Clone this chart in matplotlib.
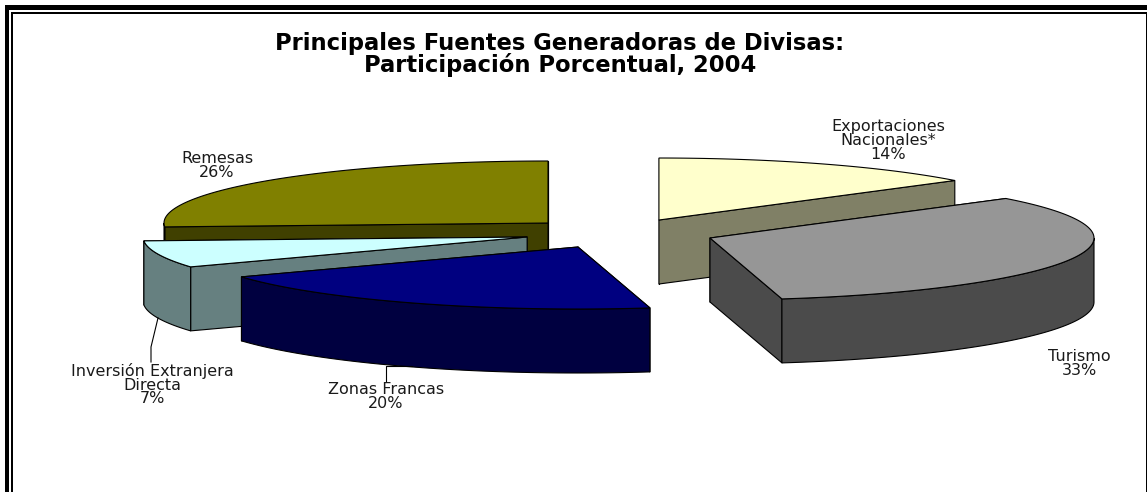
import numpy as np
import matplotlib
matplotlib.use('Agg')
import matplotlib.pyplot as plt
from matplotlib.patches import Polygon, Rectangle

title = "Principales Fuentes Generadoras de Divisas:\nParticipación Porcentual, 2004"
categories = ["Exportaciones\nNacionales*", "Turismo", "Zonas Francas",
              "Inversión Extranjera\nDirecta", "Remesas"]
shares = [14, 33, 20, 7, 26]

top_colors = ['#FFFFCC', '#969696', '#000080', '#CCFFFF', '#808000']
side_colors = ['#808066', '#4B4B4B', '#000040', '#668080', '#404000']
# how far each slice is pulled out, as fraction of the radius
explode_x = [0.3115, 0.2823, 0.1836, 0.2193, 0.2143]
explode_y = [0.178, 0.381, 0.303, 0.405, 0.165]
label_pos = [(888, 140), (1079, 363), (386, 396), (152, 384), (217, 165)]
draw_order = [4, 0, 3, 1, 2]

cx, cy = 608, 230
a, b, depth = 384, 62, 64


def rim(apex, deg):
    t = np.radians(deg)
    return apex[0] + a * np.sin(t), apex[1] - b * np.cos(t)


fig, ax = plt.subplots(figsize=(11.47, 4.92), dpi=100)
fig.subplots_adjust(0, 0, 1, 1)
ax.set_xlim(0, 1147)
ax.set_ylim(492, 0)
ax.axis('off')

# double frame, open at the bottom
for r in [(4.5, 5, 1150, 5), (4.5, 5, 4.5, 490), (11, 12, 1140, 1.8), (11, 12, 2, 490), (1145.5, 12, 2, 490)]:
    ax.add_patch(Rectangle(r[:2], r[2], r[3], fc='black', lw=0))

edges = np.cumsum([0] + shares) * 3.6
for i in draw_order:
    start, end = edges[i], edges[i + 1]
    mid = np.radians((start + end) / 2)
    apex = (cx + explode_x[i] * a * np.sin(mid), cy - explode_y[i] * b * np.cos(mid))

    # cut faces, the hidden one first
    ends = sorted([start, end], key=lambda d: rim(apex, d)[1])
    for d in ends:
        p = rim(apex, d)
        ax.add_patch(Polygon([apex, p, (p[0], p[1] + depth), (apex[0], apex[1] + depth)],
                             fc=side_colors[i], ec='black', lw=0.8, joinstyle='round'))

    # outer wall, only the front half of the ellipse shows
    lo, hi = max(start, 90), min(end, 270)
    if hi > lo:
        arc = [rim(apex, d) for d in np.linspace(lo, hi, 80)]
        low = [(x, y + depth) for x, y in arc[::-1]]
        ax.add_patch(Polygon(arc + low, fc=side_colors[i], ec='black', lw=0.8))

    arc = [rim(apex, d) for d in np.linspace(start, end, 120)]
    ax.add_patch(Polygon([apex] + arc, fc=top_colors[i], ec='black', lw=0.8))

# leader lines
ax.plot([158, 151, 151], [318, 347, 362], color='black', lw=0.8)
ax.plot([412, 386, 386], [366, 366, 381], color='black', lw=0.8)

for name, share, pos in zip(categories, shares, label_pos):
    ax.text(pos[0], pos[1] + 0.5, f"{name}\n{share}%", ha='center', va='center', ma='center',
            fontsize=11.5, family='DejaVu Sans', linespacing=0.88, color='#1a1a1a')

ax.text(560, 54.5, title, ha='center', va='center', ma='center', fontsize=16.3,
        fontweight='bold', family='DejaVu Sans', linespacing=0.9)

plt.savefig('out.png', dpi=100)
